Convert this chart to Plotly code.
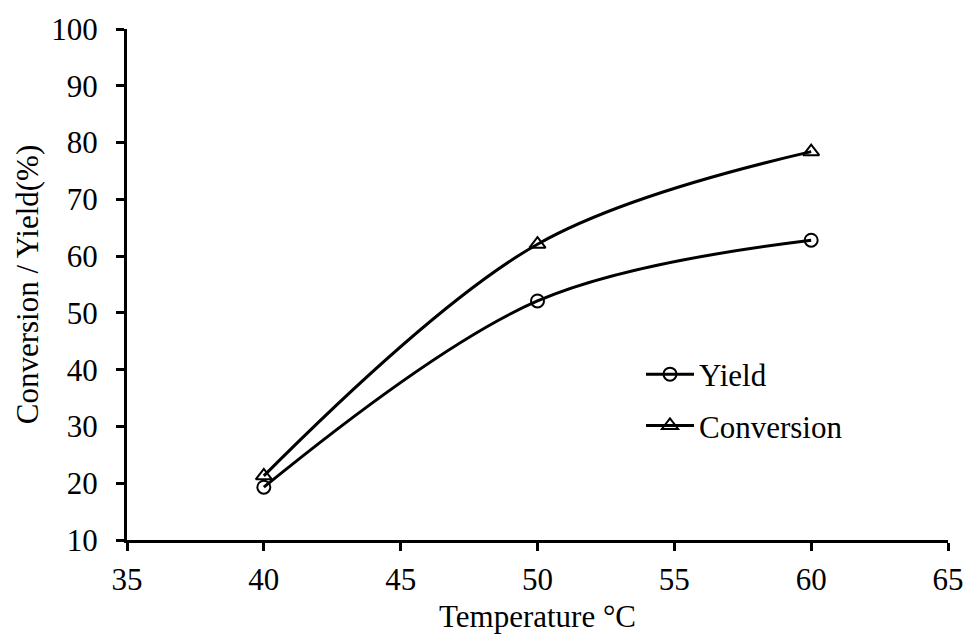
import plotly.graph_objects as go

temperature = [40, 50, 60]
yield_pct = [19.3, 52.1, 62.8]
conversion_pct = [21.3, 62.1, 78.4]

x_ticks = [35, 40, 45, 50, 55, 60, 65]
y_ticks = [10, 20, 30, 40, 50, 60, 70, 80, 90, 100]

FONT = "Liberation Serif"

fig = go.Figure()
fig.add_trace(go.Scatter(
    x=temperature, y=yield_pct, name="Yield", mode="lines+markers", legendgroup="a",
    line=dict(color="black", width=3, shape="spline", smoothing=1.0),
    marker=dict(symbol="circle-open", size=13, color="black", line=dict(width=2, color="black")),
))
fig.add_trace(go.Scatter(
    x=temperature, y=conversion_pct, name="Conversion", mode="lines+markers", legendgroup="b",
    line=dict(color="black", width=3, shape="spline", smoothing=1.0),
    marker=dict(symbol="triangle-up-open", size=14, color="black", line=dict(width=2, color="black")),
))

axis_common = dict(
    showline=True, linecolor="black", linewidth=3,
    ticks="outside", ticklen=8, tickwidth=3, tickcolor="black",
    showgrid=False, zeroline=False, automargin=False,
    tickfont=dict(family=FONT, size=31, color="black"),
)

fig.update_layout(
    width=966, height=636,
    margin=dict(l=127, r=18, t=29, b=96),
    paper_bgcolor="white", plot_bgcolor="white",
    font=dict(family=FONT, size=31, color="black"),
    xaxis=dict(range=[35, 65], tickvals=x_ticks, ticklabelstandoff=2,
               title=dict(text="Temperature °C", font=dict(family=FONT, size=31), standoff=10),
               **axis_common),
    yaxis=dict(range=[10, 100], tickvals=y_ticks, ticklabelstandoff=12,
               title=dict(text="Conversion / Yield(%)", font=dict(family=FONT, size=31), standoff=4),
               **axis_common),
    legend=dict(x=(641 - 127) / 821, y=0.274, xanchor="left", yanchor="middle",
                bgcolor="rgba(0,0,0,0)", font=dict(family=FONT, size=31),
                itemwidth=48, tracegroupgap=8, traceorder="grouped"),
    showlegend=True,
)

fig.write_html("out.html")
